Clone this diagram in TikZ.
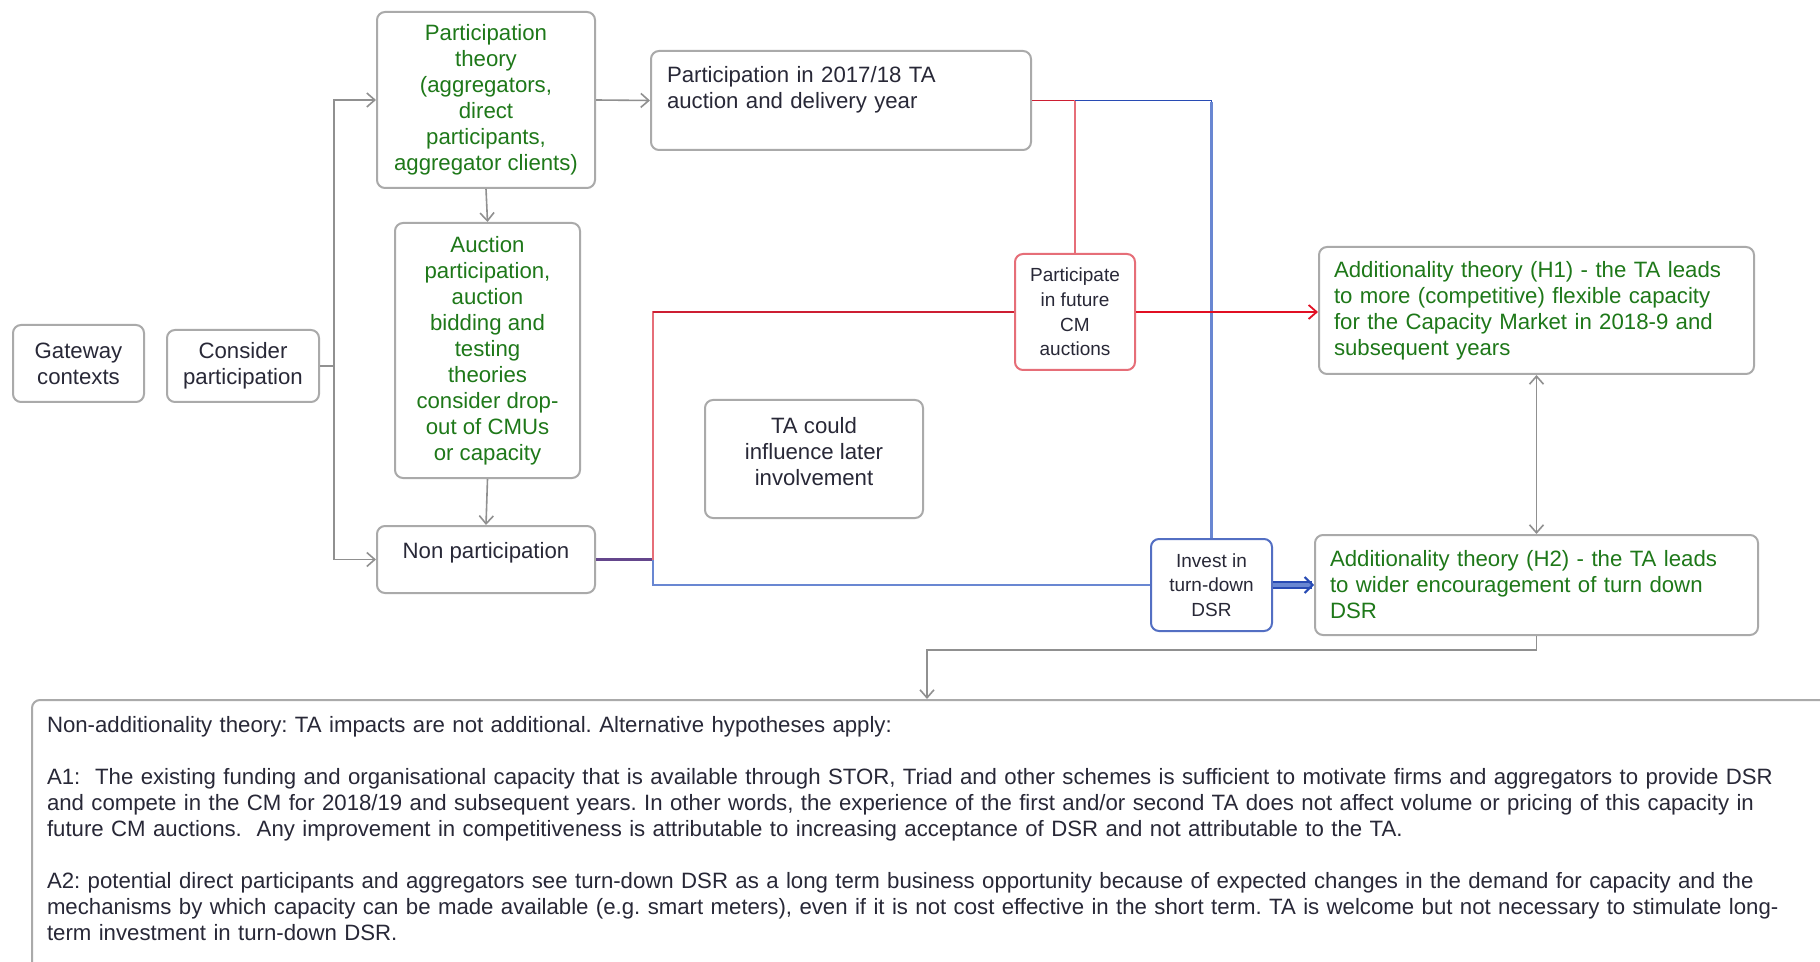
\documentclass[tikz,border=0pt]{standalone}
\usepackage{fontspec}
\setmainfont{Liberation Sans}
\usetikzlibrary{arrows.meta}

\definecolor{boxgray}{RGB}{170,170,170}
\definecolor{txtdark}{RGB}{40,40,55}
\definecolor{thgreen}{RGB}{30,120,25}
\definecolor{darkred}{RGB}{205,30,50}
\definecolor{lightred}{RGB}{230,110,120}
\definecolor{arrowred}{RGB}{225,15,35}
\definecolor{darkblue}{RGB}{40,75,180}
\definecolor{lightblue}{RGB}{105,135,210}
\definecolor{linepurple}{RGB}{100,70,140}

\tikzset{
  gbox/.style={draw=boxgray, line width=1pt, rounded corners=4pt, align=center,
    text=txtdark, font=\fontsize{11.1}{13}\selectfont\frenchspacing, inner sep=2pt},
  thbox/.style={gbox, text=thgreen},
  redbox/.style={gbox, draw=lightred, font=\fontsize{9.5}{12.3}\selectfont},
  bluebox/.style={gbox, draw=darkblue!80, font=\fontsize{9.5}{12.3}\selectfont},
  garrow/.style={draw=boxgray!85!black, line width=0.8pt,
    -{Straight Barb[length=4pt,width=7pt]}},
}

\begin{document}
\begin{tikzpicture}[x=0.5pt,y=-0.5pt]
  \clip (0,0) rectangle (1820,962);
  \fill[white] (0,0) rectangle (1820,962);

  % left column
  \node[gbox, minimum width=65.5pt, minimum height=38.5pt] (gate) at (78.5,363.5)
    {Gateway\\contexts};
  \node[gbox, minimum width=76pt, minimum height=36pt] (consider) at (243,366)
    {Consider\\participation};

  \node[thbox, minimum width=109pt, minimum height=88pt] (ptheory) at (486,100)
    {Participation\\theory\\(aggregators,\\direct\\participants,\\aggregator clients)};
  \node[thbox, minimum width=92.5pt, minimum height=127.5pt] (auction) at (487.5,350.5)
    {Auction\\participation,\\auction\\bidding and\\testing\\theories\\consider drop-\\out of CMUs\\or capacity};
  \node[gbox, minimum width=109pt, minimum height=33.5pt] (nonpart) at (486,559.5)
    {Non participation\\[-4pt]\mbox{}};

  % middle
  \node[gbox, minimum width=190pt, minimum height=49.5pt, text width=174pt, align=left]
    (delivery) at (841,100.5)
    {Participation in 2017/18 TA\\auction and delivery year\\\mbox{}};
  \node[gbox, minimum width=109pt, minimum height=59pt] (later) at (814,459)
    {TA could\\influence later\\involvement\\[-5pt]\mbox{}};

  \node[redbox, minimum width=60pt, minimum height=58pt] (future) at (1075,312)
    {Participate\\in future\\CM\\auctions};
  \node[bluebox, minimum width=60.5pt, minimum height=46pt] (invest) at (1211.5,585)
    {Invest in\\turn-down\\DSR};

  % right column
  \node[thbox, minimum width=217.5pt, minimum height=63.5pt, text width=202.5pt, align=left]
    (hone) at (1536.5,310.5)
    {Additionality theory (H1) - the TA leads\\to more (competitive) flexible capacity\\for the Capacity Market in 2018-9 and\\subsequent years};
  \node[thbox, minimum width=221.5pt, minimum height=50pt, text width=206.5pt, align=left]
    (htwo) at (1536.5,585)
    {Additionality theory (H2) - the TA leads\\to wider encouragement of turn down\\DSR};

  % bottom
  \node[gbox, anchor=north west, minimum width=904.5pt, minimum height=141.5pt,
    text width=889.5pt, align=left] (nonadd) at (31,699)
    {Non-additionality theory: TA impacts are not additional. Alternative hypotheses apply:\\
     \mbox{}\\
     A1:\ \ The existing funding and organisational capacity that is available through STOR, Triad and other schemes is sufficient to motivate firms and aggregators to provide DSR\\
     and compete in the CM for 2018/19 and subsequent years. In other words, the experience of the first and/or second TA does not affect volume or pricing of this capacity in\\
     future CM auctions.\ \ Any improvement in competitiveness is attributable to increasing acceptance of DSR and not attributable to the TA.\\
     \mbox{}\\
     A2: potential direct participants and aggregators see turn-down DSR as a long term business opportunity because of expected changes in the demand for capacity and the\\
     mechanisms by which capacity can be made available (e.g. smart meters), even if it is not cost effective in the short term. TA is welcome but not necessary to stimulate long-\\
     term investment in turn-down DSR.\\
     \mbox{}};

  % connectors
  \coordinate (split) at (334,366);
  \draw[boxgray!85!black, line width=0.8pt] (consider.east) -- (split);
  \draw[garrow] (split) |- (ptheory.west);
  \draw[garrow] (split) |- (nonpart.west);
  \draw[garrow] (ptheory.east) -- (delivery.west);
  \draw[garrow] (ptheory.south) -- (auction.north);
  \draw[garrow] (auction.south) -- (nonpart.north);

  \coordinate (fork) at (1075,100.5);
  \draw[darkred, line width=0.9pt] (delivery.east) -- (fork);
  \draw[lightred, line width=1.2pt] (fork) -- (future.north);
  \draw[darkblue, line width=0.9pt] (fork) -| (invest.north);
  \draw[lightblue, line width=1.2pt] (1211.5,102) -- (invest.north);

  \coordinate (branch) at (653,559.5);
  \draw[linepurple, line width=1.4pt] (nonpart.east) -- (branch);
  \draw[lightred, line width=1.2pt] (branch) |- (future.west);
  \draw[darkred, line width=0.9pt] (653,312) -- (future.west);
  \draw[lightblue, line width=1.2pt] (branch) |- (invest.west);

  \draw[arrowred, line width=0.9pt, -{Straight Barb[length=4pt,width=7pt]}]
    (future.east) -- (future.east -| hone.west);
  \draw[darkblue, line width=1pt, double=lightblue, double distance=1.6pt,
    -{Straight Barb[length=4pt,width=8pt]}] (invest.east) -- (htwo.west);
  \draw[garrow, {Straight Barb[length=4pt,width=7pt]}-{Straight Barb[length=4pt,width=7pt]}]
    (hone.south) -- (htwo.north);

  \coordinate (drop) at (927,650);
  \draw[garrow] (htwo.south) |- (drop) -- (drop |- nonadd.north);
\end{tikzpicture}
\end{document}
